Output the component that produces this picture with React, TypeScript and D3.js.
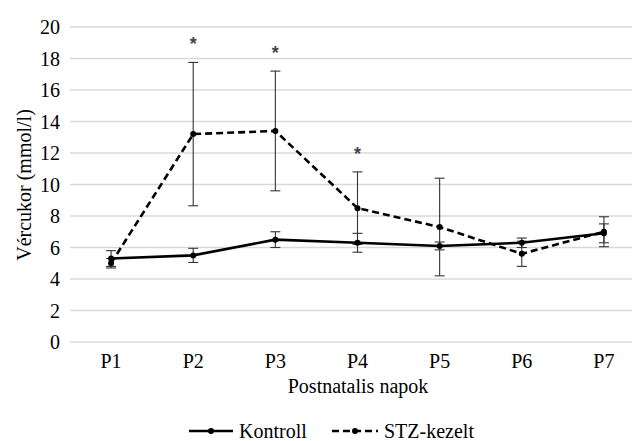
import React from "react";
import * as d3 from "d3";

const days = ["P1", "P2", "P3", "P4", "P5", "P6", "P7"];
const kontroll = [5.3, 5.5, 6.5, 6.3, 6.1, 6.3, 6.9];
const kontrollErr = [0.5, 0.45, 0.5, 0.6, 0.25, 0.3, 0.6];
const stz = [5.0, 13.2, 13.4, 8.5, 7.3, 5.6, 7.0];
const stzErr = [0.3, 4.55, 3.8, 2.3, 3.1, 0.8, 0.95];
const significant = [false, true, true, true, false, false, false];
const yTicks = [0, 2, 4, 6, 8, 10, 12, 14, 16, 18, 20];

const W = 632;
const H = 441;
const DASH = "7,4";
const txt = { fontFamily: "Liberation Serif", fontSize: 20 };

const x = d3.scalePoint<string>().domain(days).range([70, 645]).padding(0.5);
const y = d3.scaleLinear().domain([0, 20]).range([342, 27]);
const line = d3.line<number>()
  .x((_, i) => x(days[i])!)
  .y(d => y(d));

const series = [
  { key: "stz", values: stz, err: stzErr, dash: DASH },
  { key: "kontroll", values: kontroll, err: kontrollErr, dash: undefined },
];

const legend = [
  { label: "Kontroll", x1: 189, x2: 233, dash: undefined },
  { label: "STZ-kezelt", x1: 332, x2: 378, dash: DASH },
];

export default function App() {
  return (
    <svg width={W} height={H} style={{ position: "absolute", left: 0, top: 0, background: "#fff" }}>
      {/* gridlines */}
      {yTicks.map(t => (
        <line key={t} x1={70} x2={W} y1={y(t)} y2={y(t)} stroke="#d9d9d9" strokeWidth={1.5} />
      ))}
      {/* y tick labels */}
      {yTicks.map(t => (
        <text key={t} x={60} y={y(t) + 7} textAnchor="end" style={txt}>
          {t}
        </text>
      ))}
      {/* x tick labels */}
      {days.map(d => (
        <text key={d} x={x(d)} y={368} textAnchor="middle" style={txt}>
          {d}
        </text>
      ))}
      <text x={358} y={393} textAnchor="middle" style={txt}>Postnatalis napok</text>
      <text transform="translate(31,185) rotate(-90)" textAnchor="middle" style={txt}>
        Vércukor (mmol/l)
      </text>

      {/* error bars */}
      {series.map(s => (
        <g key={s.key + "-err"} stroke="#333" strokeWidth={1.1}>
          {s.values.map((v, i) => {
            const cx = x(days[i])!;
            const top = y(v + s.err[i]);
            const bot = y(v - s.err[i]);
            return (
              <g key={i}>
                <line x1={cx} x2={cx} y1={top} y2={bot} />
                <line x1={cx - 5} x2={cx + 5} y1={top} y2={top} />
                <line x1={cx - 5} x2={cx + 5} y1={bot} y2={bot} />
              </g>
            );
          })}
        </g>
      ))}

      {/* lines and markers */}
      {series.map(s => (
        <g key={s.key}>
          <path d={line(s.values)!} fill="none" stroke="#000" strokeWidth={2.6} strokeDasharray={s.dash} />
          {s.values.map((v, i) => (
            <circle key={i} cx={x(days[i])} cy={y(v)} r={3} fill="#000" />
          ))}
        </g>
      ))}

      {/* significance stars */}
      {stz.map((v, i) =>
        significant[i] ? (
          <text
            key={i}
            x={x(days[i])}
            y={y(v + stzErr[i]) - 12}
            textAnchor="middle"
            fill="#444"
            style={{ fontFamily: "Liberation Sans", fontSize: 18, fontWeight: "bold" }}
          >
            *
          </text>
        ) : null
      )}

      {/* legend */}
      {legend.map(it => (
        <g key={it.label}>
          <line x1={it.x1} x2={it.x2} y1={431} y2={431} stroke="#000" strokeWidth={2.6} strokeDasharray={it.dash} />
          <circle cx={(it.x1 + it.x2) / 2} cy={431} r={3} fill="#000" />
          <text x={it.x2 + 6} y={438} style={txt}>
            {it.label}
          </text>
        </g>
      ))}
    </svg>
  );
}
